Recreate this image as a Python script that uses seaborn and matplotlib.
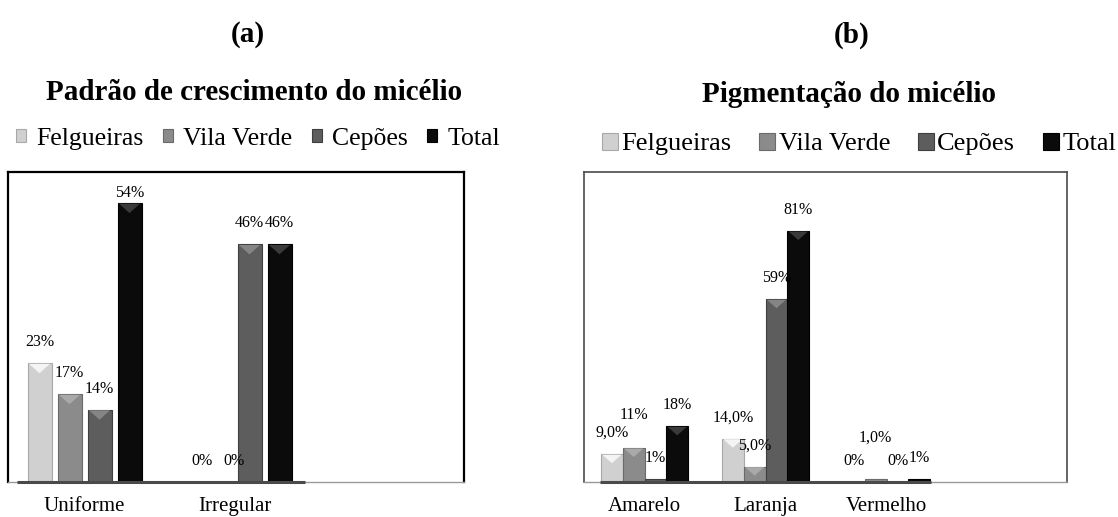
import numpy as np
import pandas as pd
import matplotlib
matplotlib.use("Agg")
import matplotlib.pyplot as plt
import seaborn as sns
from matplotlib.patches import Patch

# ---------------- data ----------------
series = ["Felgueiras", "Vila Verde", "Cepões", "Total"]

cats_a = ["Uniforme", "Irregular"]
felgueiras_a = [23, 0]
vila_verde_a = [17, 0]
cepoes_a = [14, 46]
total_a = [54, 46]
labels_a = [["23%", "0%"], ["17%", "0%"], ["14%", "46%"], ["54%", "46%"]]

cats_b = ["Amarelo", "Laranja", "Vermelho"]
felgueiras_b = [9, 14, 0]
vila_verde_b = [11, 5, 1]
cepoes_b = [1, 59, 0]
total_b = [18, 81, 1]
labels_b = [["9,0%", "14,0%", "0%"], ["11%", "5,0%", "1,0%"],
            ["1%", "59%", "0%"], ["18%", "81%", "1%"]]

# ---------------- style ----------------
colors = ["#d0d0d0", "#8b8b8b", "#5d5d5d", "#0b0b0b"]
edges = ["#a8a8a8", "#6a6a6a", "#3e3e3e", "#000000"]
bevel = ["#f4f4f4", "#a9a9a9", "#858585", "#3a3a3a"]

sns.set_theme(style="white")
plt.rcParams["font.family"] = ["Liberation Serif", "DejaVu Serif"]
plt.rcParams["text.color"] = "black"
plt.rcParams["xtick.color"] = "black"

W, H = 1118, 517
fig = plt.figure(figsize=(W / 100, H / 100), dpi=100)


def long_df(cats, cols):
    rows = []
    for s, vals in zip(series, cols):
        for c, v in zip(cats, vals):
            rows.append({"cat": c, "series": s, "value": v})
    return pd.DataFrame(rows)


def panel(rect, cats, cols, labels, ylim, xlim, width, gap, spine_col,
          spine_lw, axis_line, nudges):
    ax = fig.add_axes(rect)
    df = long_df(cats, cols)
    sns.barplot(data=df, x="cat", y="value", hue="series", hue_order=series,
                order=cats, palette=colors, width=width, gap=gap, ax=ax,
                legend=False, saturation=1, errorbar=None)
    ax.set_ylim(*ylim)
    ax.set_xlim(*xlim)
    ax_h_px = rect[3] * H
    ax_w_px = rect[2] * W
    pxu = ax_h_px / (ylim[1] - ylim[0])
    pxx = ax_w_px / (xlim[1] - xlim[0])
    for k, cont in enumerate(ax.containers):
        for b in cont:
            b.set_edgecolor(edges[k])
            b.set_linewidth(0.8)
            x0 = b.get_x()
            bw = b.get_width()
            h = b.get_height()
            depth = 0.42 * bw * pxx / pxu
            if h > depth * 1.2:
                ax.fill([x0 + bw * 0.06, x0 + bw * 0.94, x0 + bw / 2],
                        [h - 0.6 / pxu, h - 0.6 / pxu, h - depth],
                        color=bevel[k], lw=0, zorder=3)
    ax.set_yticks([])
    ax.set_xlabel("")
    ax.set_ylabel("")
    ax.tick_params(axis="x", length=0, pad=11, labelsize=15, colors="black")
    for sp in ax.spines.values():
        sp.set_visible(True)
        sp.set_color(spine_col)
        sp.set_linewidth(spine_lw)
    ax.spines["bottom"].set_color("#9a9a9a")
    ax.spines["bottom"].set_linewidth(1.0)
    ax.hlines(0, axis_line[0], axis_line[1], color="#4a4a4a", lw=2.2,
              clip_on=False, zorder=5)
    # labels
    for i, cont in enumerate(ax.containers):
        for j, b in enumerate(cont):
            h = b.get_height()
            ypx = min(h * pxu + 21, ax_h_px - 21)
            dx, dy = nudges.get((i, j), (0, 0))
            ax.annotate(labels[i][j], xy=(b.get_x() + b.get_width() / 2, 0),
                        xytext=(dx * 0.72, (ypx + dy) * 0.72),
                        textcoords="offset points", ha="center", va="center",
                        fontsize=11.5, color="black", annotation_clip=False)
    return ax


ax_a = panel([8 / W, 1 - 482 / H, (464 - 8) / W, 310 / H], cats_a,
             [felgueiras_a, vila_verde_a, cepoes_a, total_a], labels_a,
             (0, 60), (-0.51, 2.53), 0.8, 0.2, "black", 1.6, (-0.45, 1.47),
             {(0, 1): (13, 0), (1, 1): (15, 0)})
ax_b = panel([584 / W, 1 - 482 / H, (1067 - 584) / W, 310 / H], cats_b,
             [felgueiras_b, vila_verde_b, cepoes_b, total_b], labels_b,
             (0, 100), (-0.5, 3.49), 0.72, 0, "#4a4a4a", 1.2, (-0.37, 2.37),
             {(1, 0): (0, 12), (1, 2): (0, 20)})

# ---------------- titles ----------------
fig.text(248 / W, 1 - 35 / H, "(a)", ha="center", va="center",
         fontsize=21, fontweight="bold")
fig.text(852 / W, 1 - 35 / H, "(b)", ha="center", va="center",
         fontsize=21, fontweight="bold")
fig.text(254 / W, 1 - 92 / H, "Padrão de crescimento do micélio",
         ha="center", va="center", fontsize=21, fontweight="bold")
fig.text(849 / W, 1 - 94 / H, "Pigmentação do micélio",
         ha="center", va="center", fontsize=21, fontweight="bold")

# ---------------- legends ----------------
handles = [Patch(facecolor=c, edgecolor=e, linewidth=0.8)
           for c, e in zip(colors, edges)]
fig.legend(handles, series, loc="center", bbox_to_anchor=(258 / W, 1 - 139 / H),
           ncol=4, frameon=False, fontsize=18.5, handlelength=0.4,
           handleheight=0.4, handletextpad=0.4, columnspacing=0.75,
           borderpad=0, borderaxespad=0)
fig.legend(handles, series, loc="center", bbox_to_anchor=(859 / W, 1 - 144 / H),
           ncol=4, frameon=False, fontsize=19, handlelength=0.62,
           handleheight=0.62, handletextpad=0.12, columnspacing=1.04,
           borderpad=0, borderaxespad=0)

fig.savefig("out.png", dpi=100)
